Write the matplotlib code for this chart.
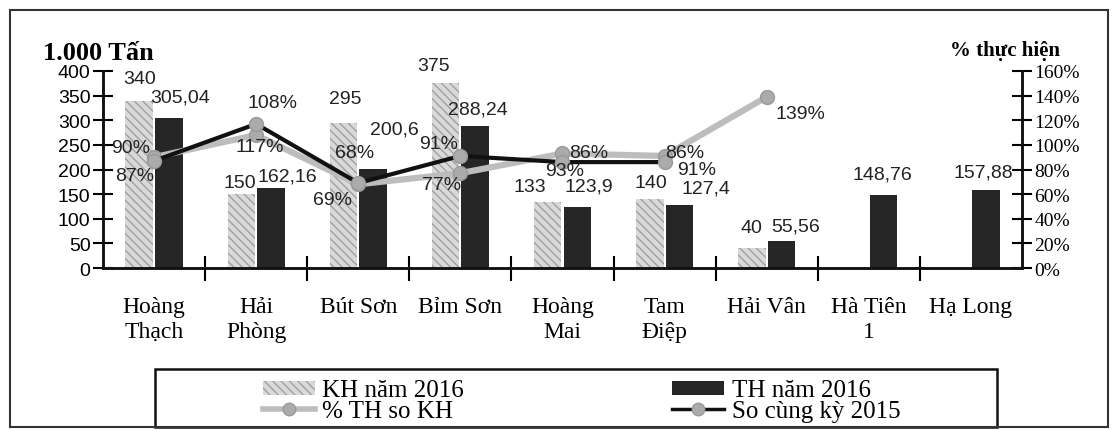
import numpy as np
import matplotlib.pyplot as plt
from matplotlib.patches import Rectangle, Patch
from matplotlib.lines import Line2D

plt.switch_backend('Agg')

SERIF = 'Liberation Serif'
SANS = 'Liberation Sans'

categories = ['Hoàng\nThạch', 'Hải\nPhòng', 'Bút Sơn', 'Bỉm Sơn', 'Hoàng\nMai',
              'Tam\nĐiệp', 'Hải Vân', 'Hà Tiên\n1', 'Hạ Long']
kh_2016 = [340, 150, 295, 375, 133, 140, 40, np.nan, np.nan]
th_2016 = [305.04, 162.16, 200.6, 288.24, 123.9, 127.4, 55.56, 148.76, 157.88]
pct_th_kh = [90, 108, 68, 77, 93, 91, 139, np.nan, np.nan]
pct_cung_ky = [87, 117, 69, 91, 86, 86, np.nan, np.nan, np.nan]

# label offsets in pixels (dx, dy) from the top of each bar / each point
kh_off = [(0, 22), (-2, 12), (2, 24), (-12, 18), (-18, 16), (1, 17), (0, 21), None, None]
th_off = [(11, 21), (16, 12), (21, 40), (3, 17), (12, 21), (27, 17), (14, 15), (-1, 21), (-2, 18)]
pct_off = [(-23, 10), (16, 33), (-4, 32), (-19, -11), (2, -17), (32, -14), (34, -17), None, None]
ck_off = [(-19, -15), (4, -23), (-26, -16), (-22, 12), (26, 10), (20, 10), None, None, None]


def fmt(v):
    s = ('%g' % v).replace('.', ',')
    return s


fig = plt.figure(figsize=(11.2, 4.31), dpi=100)
ax = fig.add_axes([103 / 1120, 1 - 269 / 431, 919 / 1120, 197 / 431])
ax2 = ax.twinx()

x = np.arange(len(categories))
w = 0.27
kh_color = '#d9d9d9'
th_color = '#262626'

ax.bar(x - 0.145, kh_2016, w, color=kh_color, edgecolor='#a0a0a0',
       hatch='\\\\\\\\', linewidth=0, zorder=2)
ax.bar(x + 0.145, th_2016, w, color=th_color, edgecolor='#3a3a3a',
       linewidth=0, zorder=2)

for i, v in enumerate(kh_2016):
    if kh_off[i] is None or np.isnan(v):
        continue
    ax.annotate(fmt(v), (x[i] - 0.145, v), xytext=kh_off[i], textcoords='offset pixels',
                ha='center', va='center', fontsize=14, family=SANS, color='#222222')
for i, v in enumerate(th_2016):
    ax.annotate(fmt(v), (x[i] + 0.145, v), xytext=th_off[i], textcoords='offset pixels',
                ha='center', va='center', fontsize=14, family=SANS, color='#222222')

ax.set_xlim(-0.5, len(categories) - 0.5)
ax.set_ylim(0, 400)
ax.set_yticks(np.arange(0, 401, 50))
ax.set_xticks(x)
ax.set_xticklabels(categories, family=SERIF, fontsize=17, linespacing=1.25)
ax.set_xticks(np.arange(0.5, len(categories) - 0.5, 1), minor=True)
ax.tick_params(axis='x', which='major', length=0, pad=20)
ax.tick_params(axis='x', which='minor', direction='inout', length=18, width=1.5)
ax.tick_params(axis='y', direction='inout', length=14, width=1.5, pad=2, labelsize=14)
for lbl in ax.get_yticklabels():
    lbl.set_family(SANS)

for a in (ax, ax2):
    a.spines['top'].set_visible(False)
    for s in ('left', 'right', 'bottom'):
        a.spines[s].set_linewidth(1.8)
        a.spines[s].set_color('#111111')

# right axis with the two percent lines
ax2.set_ylim(0, 160)
ax2.set_yticks(np.arange(0, 161, 20))
ax2.set_yticklabels(['%d%%' % t for t in np.arange(0, 161, 20)], family=SERIF, fontsize=14)
ax2.tick_params(axis='y', direction='inout', length=14, width=1.5, pad=2)

ax2.plot(x, pct_th_kh, color='#bdbdbd', lw=4.5, marker='o', ms=10,
         mfc='#ababab', mec='#9a9a9a', zorder=3)
ax2.plot(x, pct_cung_ky, color='#111111', lw=3, marker='o', ms=10,
         mfc='#ababab', mec='#9a9a9a', zorder=4)

for i, v in enumerate(pct_th_kh):
    if pct_off[i] is None:
        continue
    ax2.annotate('%d%%' % v, (x[i], v), xytext=pct_off[i], textcoords='offset pixels',
                 ha='center', va='center', fontsize=14, family=SANS, color='#222222', zorder=5)
for i, v in enumerate(pct_cung_ky):
    if ck_off[i] is None:
        continue
    ax2.annotate('%d%%' % v, (x[i], v), xytext=ck_off[i], textcoords='offset pixels',
                 ha='center', va='center', fontsize=14, family=SANS, color='#222222', zorder=5)

fig.text(43 / 1120, 1 - 60 / 431, '1.000 Tấn', family=SERIF, fontsize=19,
         fontweight='bold', va='baseline', ha='left')
fig.text(950 / 1120, 1 - 56 / 431, '% thực hiện', family=SERIF, fontsize=15,
         fontweight='bold', va='baseline', ha='left')

handles = [
    Patch(facecolor=kh_color, edgecolor='#a0a0a0', hatch='\\\\\\\\', linewidth=0),
    Line2D([], [], color='#bdbdbd', lw=4, marker='o', ms=9, mfc='#ababab', mec='#9a9a9a'),
    Patch(facecolor=th_color, linewidth=0),
    Line2D([], [], color='#111111', lw=2.5, marker='o', ms=9, mfc='#ababab', mec='#9a9a9a'),
]
labels = ['KH năm 2016', '% TH so KH', 'TH năm 2016', 'So cùng kỳ 2015']
fig.legend(handles, labels, ncol=2, loc='upper left',
           bbox_to_anchor=(250 / 1120, 1 - 368 / 431), frameon=False, borderpad=0,
           handlelength=2.1, handleheight=0.5, handletextpad=0.3, columnspacing=8.3,
           labelspacing=-0.06, prop={'family': SERIF, 'size': 18})

fig.patches.append(Rectangle((155 / 1120, 3 / 431), 842 / 1120, 58 / 431,
                             transform=fig.transFigure, fill=False, lw=1.8,
                             edgecolor='#111111'))
fig.patches.append(Rectangle((10 / 1120, 3 / 431), 1098 / 1120, 417 / 431,
                             transform=fig.transFigure, fill=False, lw=1.5,
                             edgecolor='#333333'))

fig.savefig('out.png', dpi=100)
